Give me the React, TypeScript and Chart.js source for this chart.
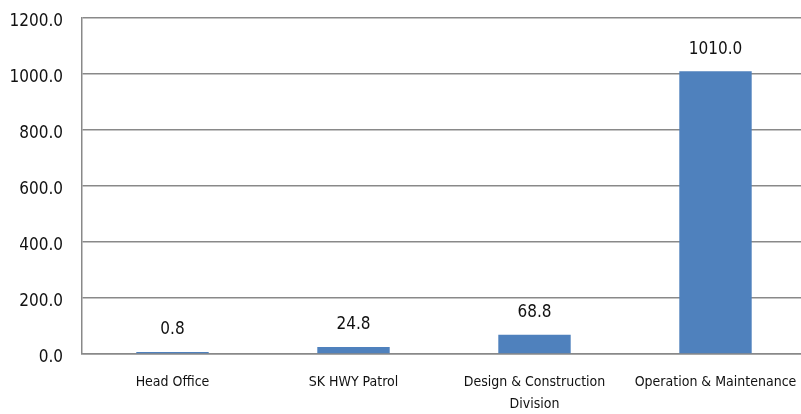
import React, { useEffect, useRef } from "react";
import { Chart, registerables } from "chart.js";

Chart.register(...registerables);

const categories: (string | string[])[] = [
  "Head Office",
  "SK HWY Patrol",
  ["Design & Construction", "Division"],
  "Operation & Maintenance",
];
const values: number[] = [0.8, 24.8, 68.8, 1010.0];
const yMin = 0;
const yMax = 1200;
const yStep = 200;

const FONT = "'DejaVu Sans Condensed', 'Liberation Sans', sans-serif";
const BAR_COLOR = "#4F81BD";
const GRID_COLOR = "#898989";
const TEXT_COLOR = "#111111";

const dataLabels = {
  id: "dataLabels",
  afterDatasetsDraw(chart: any) {
    const ctx = chart.ctx;
    const meta = chart.getDatasetMeta(0);
    ctx.save();
    ctx.font = `17px ${FONT}`;
    ctx.fillStyle = TEXT_COLOR;
    ctx.textAlign = "center";
    ctx.textBaseline = "middle";
    meta.data.forEach((bar: any, i: number) => {
      const v = chart.data.datasets[0].data[i] as number;
      ctx.fillText(v.toFixed(1), bar.x, bar.y - 22);
    });
    ctx.restore();
  },
};

export default function App() {
  const ref = useRef<HTMLCanvasElement | null>(null);
  useEffect(() => {
    if (!ref.current) return;
    const chart = new Chart(ref.current, {
      type: "bar",
      data: {
        labels: categories,
        datasets: [
          {
            data: values,
            backgroundColor: BAR_COLOR,
            borderWidth: 0,
            categoryPercentage: 1,
            barPercentage: 0.4,
            minBarLength: 2,
          },
        ],
      },
      options: {
        responsive: false,
        animation: false,
        layout: { autoPadding: false, padding: { top: 18, left: 0, right: 0, bottom: 0 } },
        plugins: { legend: { display: false }, tooltip: { enabled: false } },
        scales: {
          x: {
            grid: { display: false },
            border: { display: true, color: GRID_COLOR, width: 1.5 },
            ticks: {
              color: TEXT_COLOR,
              font: { family: FONT, size: 14, lineHeight: 1.6 },
              padding: 9,
              maxRotation: 0,
              autoSkip: false,
            },
            afterFit: (s: any) => {
              s.height = 60;
              s.paddingLeft = 0;
              s.paddingRight = 0;
            },
          },
          y: {
            min: yMin,
            max: yMax,
            grid: { color: GRID_COLOR, lineWidth: 1.5, drawTicks: false },
            border: { display: true, color: GRID_COLOR, width: 1.5 },
            ticks: {
              stepSize: yStep,
              color: TEXT_COLOR,
              font: { family: FONT, size: 17 },
              padding: 19,
              labelOffset: 4,
              callback: (v: any) => Number(v).toFixed(1),
            },
            afterFit: (s: any) => {
              s.width = 82;
              s.paddingTop = 0;
              s.paddingBottom = 0;
            },
          },
        },
      },
      plugins: [dataLabels],
    });
    return () => chart.destroy();
  }, []);
  return (
    <div
      style={{
        position: "fixed",
        left: 0,
        top: 0,
        width: 806,
        height: 414,
        background: "#fff",
      }}
    >
      <canvas ref={ref} width={806} height={414} style={{ width: 806, height: 414, display: "block" }} />
    </div>
  );
}
